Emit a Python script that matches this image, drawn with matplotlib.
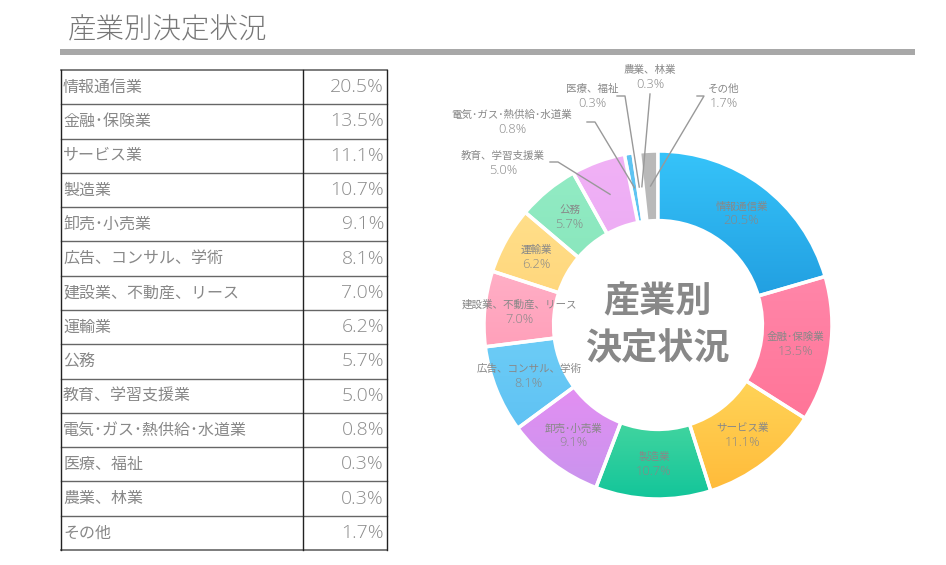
import numpy as np
import matplotlib
matplotlib.use("Agg")
import matplotlib.pyplot as plt
from matplotlib.colors import LinearSegmentedColormap

plt.rcParams['font.family'] = ['Noto Sans CJK JP', 'DejaVu Sans']
num_font = ['Open Sans', 'Noto Sans CJK JP', 'DejaVu Sans']

# data
industries = ["情報通信業", "金融･保険業", "サービス業", "製造業", "卸売･小売業",
              "広告、コンサル、学術", "建設業、不動産、リース", "運輸業", "公務",
              "教育、学習支援業", "電気･ガス･熱供給･水道業", "医療、福祉",
              "農業、林業", "その他"]
shares = [20.5, 13.5, 11.1, 10.7, 9.1, 8.1, 7.0, 6.2, 5.7, 5.0, 0.8, 0.3, 0.3, 1.7]
# gradient (top, bottom) per slice
top_colors = ["#36c4fa", "#ff86a9", "#ffe066", "#7fe9a6", "#f38cf5", "#6fcef7",
              "#ffafc6", "#ffdf8a", "#92ebc4", "#f1b1f6", "#5ec4f2", "#f2f2f2",
              "#f7f7f7", "#b9b9b9"]
bottom_colors = ["#1e98dc", "#ff7598", "#ffbb3a", "#12c59a", "#c994ee", "#5fc2f3",
                 "#ffa0ba", "#ffd478", "#84e4b8", "#e8a9f3", "#5ec4f2", "#f2f2f2",
                 "#f7f7f7", "#b9b9b9"]

W, H = 946, 565
fig = plt.figure(figsize=(W / 100, H / 100), dpi=100)

# overlay in pixel coordinates
bg = fig.add_axes([0, 0, 1, 1])
bg.set_xlim(0, W)
bg.set_ylim(H, 0)
bg.axis('off')

text_grey = "#888888"

# title and bar
bg.text(68, 30, "産業別決定状況", fontsize=20.5, color="#777777", va='center', ha='left',
        fontweight='light')
bg.fill_between([60, 915], 49, 55, color="#a8a8a8", lw=0)

# table
left, mid, right = 61, 303, 387
top, bottom = 70, 550
n = len(industries)
row_h = (bottom - top) / n
for i, (name, val) in enumerate(zip(industries, shares)):
    yc = top + (i + 0.5) * row_h
    bg.text(left + 2, yc, name, fontsize=11.5, color=text_grey, va='center', ha='left')
    bg.text(right - 3, yc, f"{val:.1f}%", fontsize=14, color="#8c8c8c", va='center',
            ha='right', family=num_font, fontweight='light')
for i in range(n + 1):
    y = top + i * row_h
    bg.plot([left, right], [y, y], color="#666666", lw=1.2 if i in (0, n) else 1.0)
for x in (left, mid, right):
    bg.plot([x, x], [top, bottom], color="#222222", lw=1.0)

# donut
cx, cy, R = 658, 325, 174
pax = fig.add_axes([(cx - R) / W, (H - cy - R) / H, 2 * R / W, 2 * R / H])
wedges, _ = pax.pie(shares, colors=top_colors, startangle=90, counterclock=False,
                    radius=1.0, wedgeprops=dict(width=0.4, edgecolor='white', linewidth=2.5))

# vertical gradient fill clipped to each wedge
grad = np.linspace(0, 1, 256).reshape(-1, 1)
for w, c1, c2 in zip(wedges, top_colors, bottom_colors):
    if c1 == c2:
        continue
    verts = w.get_path().vertices
    x0, x1 = verts[:, 0].min(), verts[:, 0].max()
    y0, y1 = verts[:, 1].min(), verts[:, 1].max()
    cmap = LinearSegmentedColormap.from_list("g", [c1, c2])
    im = pax.imshow(grad, cmap=cmap, extent=[x0, x1, y0, y1], aspect='auto',
                    origin='upper', zorder=w.get_zorder() + 0.1, interpolation='bilinear')
    im.set_clip_path(w)
    w.set_facecolor('none')
    w.set_zorder(w.get_zorder() + 0.2)

pax.set_xlim(-1, 1)
pax.set_ylim(-1, 1)
pax.set_aspect('equal')
pax.axis('off')

pax.text(0, 0, "産業別\n決定状況", fontsize=26, fontweight='bold', color=text_grey,
         ha='center', va='center', linespacing=1.35, zorder=5)

cum = np.cumsum([0] + shares)
mids = (cum[:-1] + cum[1:]) / 2 / 100 * 2 * np.pi


def to_pie(px, py):
    return (px - cx) / R, (cy - py) / R


def label(x, y, i):
    d = 7.2 / R
    pax.text(x, y + d, industries[i], fontsize=7.6, color=text_grey,
             ha='center', va='center', zorder=5)
    pax.text(x, y - d, f"{shares[i]:.1f}%", fontsize=9.3, color=text_grey,
             ha='center', va='center', zorder=5, family=num_font, fontweight='light')


# labels inside the ring
for i in range(9):
    a = mids[i]
    label(0.8 * np.sin(a), 0.8 * np.cos(a), i)

# outside labels with leader lines: (index, text pos px, line start px, elbow px)
outer = [
    (9, (503, 163), (550, 162), (558, 162)),
    (10, (512, 122), (587, 122), (595, 122)),
    (11, (592, 96), (617, 96), (625, 96)),
    (12, (650, 77), (650, 94), (650, 94)),
    (13, (724, 96), (697, 96), (704, 96)),
]
for i, tp, sp, ep in outer:
    label(*to_pie(*tp), i)
    a = mids[i]
    wx, wy = 0.8 * np.sin(a), 0.8 * np.cos(a)
    sx, sy = to_pie(*sp)
    ex, ey = to_pie(*ep)
    pax.plot([sx, ex, wx], [sy, ey, wy], color="#999999", lw=1.0, clip_on=False, zorder=5)

fig.savefig("out.png", dpi=100)
